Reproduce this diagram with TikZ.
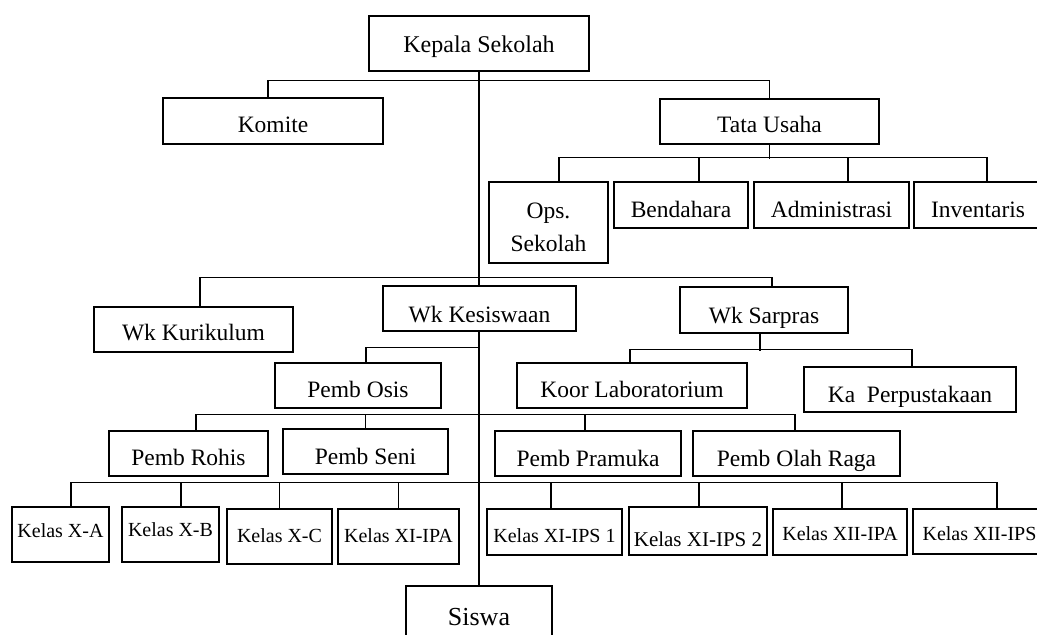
\documentclass[tikz,border=0pt]{standalone}
\usepackage{fontspec}
\setmainfont{Liberation Serif}
\pgfdeclarelayer{bg}
\pgfsetlayers{bg,main}
\tikzset{
  box/.style={draw=black, line width=1.3pt, fill=white, inner sep=0pt,
    text depth=0pt, text height=24pt, font=\fontsize{23.5}{33}\selectfont},
  kbox/.style={box, font=\fontsize{20}{24}\selectfont},
  conn/.style={draw=black, line width=1.3pt},
  wh/.style 2 args={minimum width=#1pt, minimum height=#2pt},
  th/.style={text height=#1pt}
}
\begin{document}
\begin{tikzpicture}[x=1pt,y=-1pt]
\useasboundingbox (0,0) rectangle (1037,635);
\clip (0,0) rectangle (1037,635);
% level 0
\node[box, wh={220}{55}, th=18, font=\fontsize{24}{28}\selectfont] (kep) at (479,43.5) {Kepala Sekolah};
% level 1
\node[box, wh={220}{46}, th=22] (kom) at (273,121) {Komite};
\node[box, wh={219}{45}, th=21] (tu) at (769.5,121.5) {Tata Usaha};
% tata usaha children
\node[box, wh={119}{81}, th=57, align=center] (ops) at (548.5,222.5) {Ops.\\Sekolah};
\node[box, wh={134}{46}] (ben) at (681,205) {Bendahara};
\node[box, wh={155}{46}] (adm) at (831.5,205) {Administrasi};
\node[box, wh={128}{46}] (inv) at (978,205) {Inventaris};
% wakil
\node[box, wh={199}{45}, th=21] (wkk) at (193.5,329.5) {Wk Kurikulum};
\node[box, wh={193}{45}, th=27] (wks) at (479.5,308.5) {Wk Kesiswaan};
\node[box, wh={168}{46}, th=26] (wsp) at (764,310) {Wk Sarpras};
% level 3
\node[box, wh={166}{45}, th=23] (osis) at (358,385.5) {Pemb Osis};
\node[box, wh={230}{45}, th=23] (koor) at (632,385.5) {Koor Laboratorium};
\node[box, wh={212}{45}, th=25] (perp) at (910,389.5) {Ka\ \ Perpustakaan};
% level 4
\node[box, wh={159}{45}, th=23] (rohis) at (188.5,453.5) {Pemb Rohis};
\node[box, wh={165}{45}, th=25] (seni) at (365.5,451.5) {Pemb Seni};
\node[box, wh={186}{45}, th=25] (pram) at (588,453.5) {Pemb Pramuka};
\node[box, wh={207}{45}, th=25] (olah) at (796.5,453.5) {Pemb Olah Raga};
% kelas
\node[kbox, wh={97}{55}, th=5] (xa) at (60.5,534.5) {Kelas X-A};
\node[kbox, wh={97}{55}, th=3] (xb) at (170.5,534.5) {Kelas X-B};
\node[kbox, wh={105}{55}, th=11] (xc) at (279.5,536.5) {Kelas X-C};
\node[kbox, wh={121}{55}, th=11] (xiipa) at (398.5,536.5) {Kelas XI-IPA};
\node[kbox, wh={135}{46}, th=20] (ips1) at (554.5,532) {Kelas XI-IPS 1};
\node[kbox, wh={138}{48}, th=30, font=\fontsize{21}{25}\selectfont] (ips2) at (698,531) {Kelas XI-IPS 2};
\node[kbox, wh={134}{46}, th=16] (xiiipa) at (840,532) {Kelas XII-IPA};
\node[kbox, wh={133}{45}, th=17] (xiiips) at (979.5,531.5) {Kelas XII-IPS};
% siswa
\node[box, wh={146}{74}, th=4, font=\fontsize{26}{30}\selectfont] (siswa) at (479,623) {Siswa};
\begin{pgfonlayer}{bg}
  % trunk
  \draw[conn] (kep.south) -- (siswa.north);
  % level 1
  \draw[conn] ([xshift=-5pt]kom.north) -- ++(0,-17) -| (tu.north);
  % tata usaha
  \draw[conn] (tu.south) -- ++(0,14);
  \draw[conn] ([xshift=10.5pt]ops.north) -- ++(0,-24) -| ([xshift=9pt]inv.north);
  \draw[conn] ([xshift=18pt]ben.north) -- ++(0,-24);
  \draw[conn] ([xshift=16.5pt]adm.north) -- ++(0,-24);
  % wakil
  \draw[conn] ([xshift=6.5pt]wkk.north) -- ++(0,-29) -| ([xshift=8pt]wsp.north);
  % osis
  \draw[conn] ([xshift=8pt]osis.north) -- ++(0,-15) -| (wks.south);
  % sarpras
  \draw[conn] ([xshift=-4pt]wsp.south) -- ++(0,17);
  \draw[conn] ([xshift=-2pt]koor.north) -- ++(0,-13) -| ([xshift=2pt]perp.north);
  % pembina
  \draw[conn] ([xshift=7.5pt]rohis.north) -- ++(0,-16) -| ([xshift=-1.5pt]olah.north);
  \draw[conn] (seni.north) -- ++(0,-14);
  \draw[conn] ([xshift=-3pt]pram.north) -- ++(0,-16);
  % kelas
  \draw[conn] ([xshift=10.5pt]xa.north) -- ++(0,-24) -| ([xshift=17.5pt]xiiips.north);
  \draw[conn] ([xshift=10.5pt]xb.north) -- ++(0,-24);
  \draw[conn] (xc.north) -- ++(0,-26);
  \draw[conn] (xiipa.north) -- ++(0,-26);
  \draw[conn] ([xshift=-3.5pt]ips1.north) -- ++(0,-26);
  \draw[conn] ([xshift=1pt]ips2.north) -- ++(0,-24);
  \draw[conn] ([xshift=2pt]xiiipa.north) -- ++(0,-26);
\end{pgfonlayer}
\end{tikzpicture}
\end{document}
